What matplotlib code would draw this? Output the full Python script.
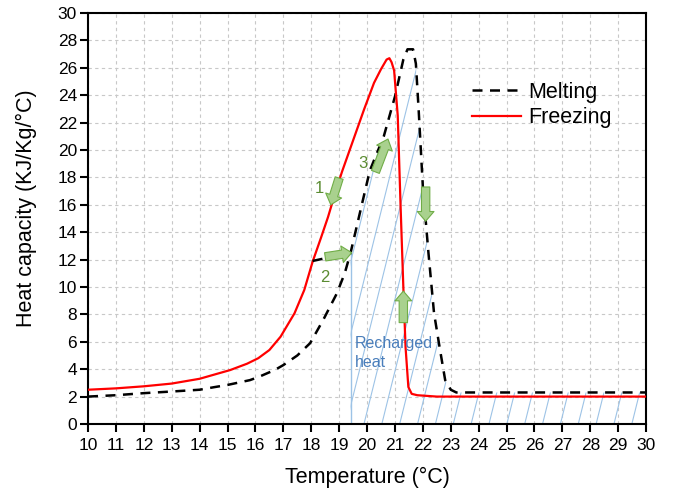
import numpy as np
import matplotlib.pyplot as plt
from matplotlib.patches import Polygon

plt.rcParams['font.family'] = ['Liberation Sans', 'DejaVu Sans']

# melting curve (dashed black)
melt_t = [10, 11, 12, 13, 14, 14.5, 15, 15.8, 16.1, 16.7, 17.0, 17.5, 17.96, 18.43, 18.91,
          19.2, 19.41, 19.8, 20.1, 20.6, 21.0, 21.3, 21.45, 21.65, 21.75, 21.85, 22.0,
          22.2, 22.4, 22.6, 22.8, 23.0, 23.2, 30]
melt_c = [2.0, 2.1, 2.25, 2.37, 2.5, 2.68, 2.85, 3.2, 3.42, 3.95, 4.3, 5.0, 5.9, 7.6, 9.5,
          11.0, 12.5, 15.9, 18.5, 21.0, 23.9, 26.6, 27.35, 27.35, 26.3, 22.9, 17.3,
          12.5, 8.1, 5.6, 3.2, 2.5, 2.3, 2.3]

# freezing curve (red)
freeze_t = [10, 11, 12, 13, 14, 15.1, 15.7, 16.1, 16.5, 16.9, 17.4, 17.75, 18.05, 18.35, 18.6,
            18.85, 19.1, 19.5, 19.9, 20.25, 20.5, 20.7, 20.8, 20.88, 20.97, 21.1, 21.2,
            21.3, 21.38, 21.48, 21.6, 21.8, 22.5, 30]
freeze_c = [2.5, 2.6, 2.75, 2.95, 3.3, 3.94, 4.4, 4.8, 5.4, 6.37, 8.08, 9.78, 11.85, 13.6, 15.1,
            16.8, 18.4, 20.7, 23.0, 24.9, 25.9, 26.6, 26.7, 26.4, 25.8, 22.5, 16.0,
            10.0, 5.6, 2.7, 2.2, 2.1, 2.0, 2.0]

# partial melting path (from freezing curve onto melting curve)
partial_t = [18.05, 19.41]
partial_c = [11.9, 12.5]

recharge_start = 19.41

# block arrows: (x0, y0, x1, y1)
arrows = [(19.0, 17.95, 18.7, 16.0),
          (18.5, 12.2, 19.45, 12.5),
          (20.3, 18.4, 20.75, 20.8),
          (22.1, 17.3, 22.1, 14.8),
          (21.3, 7.4, 21.3, 9.7)]
arrow_labels = ['1', '2', '3']
arrow_label_pos = [(18.3, 17.2), (18.5, 10.7), (19.85, 19.0)]

fig = plt.figure(figsize=(6.73, 4.96), dpi=100)
ax = fig.add_axes([0.1308, 0.1452, 0.8292, 0.8286])

# hatched recharged-heat area under melting curve
mt = np.array(melt_t)
mc = np.array(melt_c)
sel = mt >= recharge_start
poly_x = np.concatenate([[recharge_start], mt[sel], [30, recharge_start]])
poly_y = np.concatenate([[0], mc[sel], [0, 0]])
poly = Polygon(np.column_stack([poly_x, poly_y]), closed=True, fc='none', ec='none')
ax.add_patch(poly)
slope = 8.2
for x0 in np.arange(recharge_start - 4, 31, 0.64):
    ln, = ax.plot([x0, x0 + 30 / slope], [0, 30], color='#9dc3e6', lw=0.8, zorder=1)
    ln.set_clip_path(poly)
ax.plot([recharge_start, recharge_start], [0, 12.5], color='#9dc3e6', lw=1.0, zorder=1)

ax.plot(melt_t, melt_c, color='black', lw=1.8, dashes=(4, 3), label='Melting', zorder=3)
ax.plot(freeze_t, freeze_c, color='red', lw=1.6, label='Freezing', zorder=3)
ax.plot(partial_t, partial_c, color='black', lw=1.8, dashes=(4, 3), zorder=3)

for x0, y0, x1, y1 in arrows:
    ax.annotate('', xy=(x1, y1), xytext=(x0, y0),
                arrowprops=dict(arrowstyle='simple,head_length=0.7,head_width=1.2,tail_width=0.6',
                                fc='#a9d18e', ec='#70ad47', lw=0.8, shrinkA=0, shrinkB=0),
                zorder=4)
for lab, (lx, ly) in zip(arrow_labels, arrow_label_pos):
    ax.text(lx, ly, lab, color='#5b8c32', fontsize=12, ha='center', va='center', zorder=4)

ax.text(19.57, 5.2, 'Recharged\nheat', color='#4a7ebb', fontsize=11.5, ha='left', va='center',
        linespacing=1.3, zorder=4)

ax.set_xlim(10, 30)
ax.set_ylim(0, 30)
ax.set_xticks(np.arange(10, 31, 1))
ax.set_yticks(np.arange(0, 31, 2))
ax.grid(True, color='#c8c8c8', lw=0.8, linestyle=(0, (3, 3)))
ax.set_axisbelow(True)
for s in ax.spines.values():
    s.set_linewidth(1.5)
ax.tick_params(direction='out', length=6, width=1.5, labelsize=12.5)
ax.tick_params(axis='x', pad=4)
ax.tick_params(axis='y', pad=2)
ax.set_xlabel('Temperature (°C)', fontsize=15.5, labelpad=10)
ax.set_ylabel('Heat capacity (KJ/Kg/°C)', fontsize=15.5, labelpad=14)
ax.yaxis.set_label_coords(-0.092, 0.525)

ax.legend(loc='center left', bbox_to_anchor=(0.688, 0.776), frameon=False, fontsize=15.5,
          handlelength=2.3, labelspacing=0.2, handletextpad=0.3, borderpad=0,
          borderaxespad=0)

fig.savefig('out.png', dpi=100)
